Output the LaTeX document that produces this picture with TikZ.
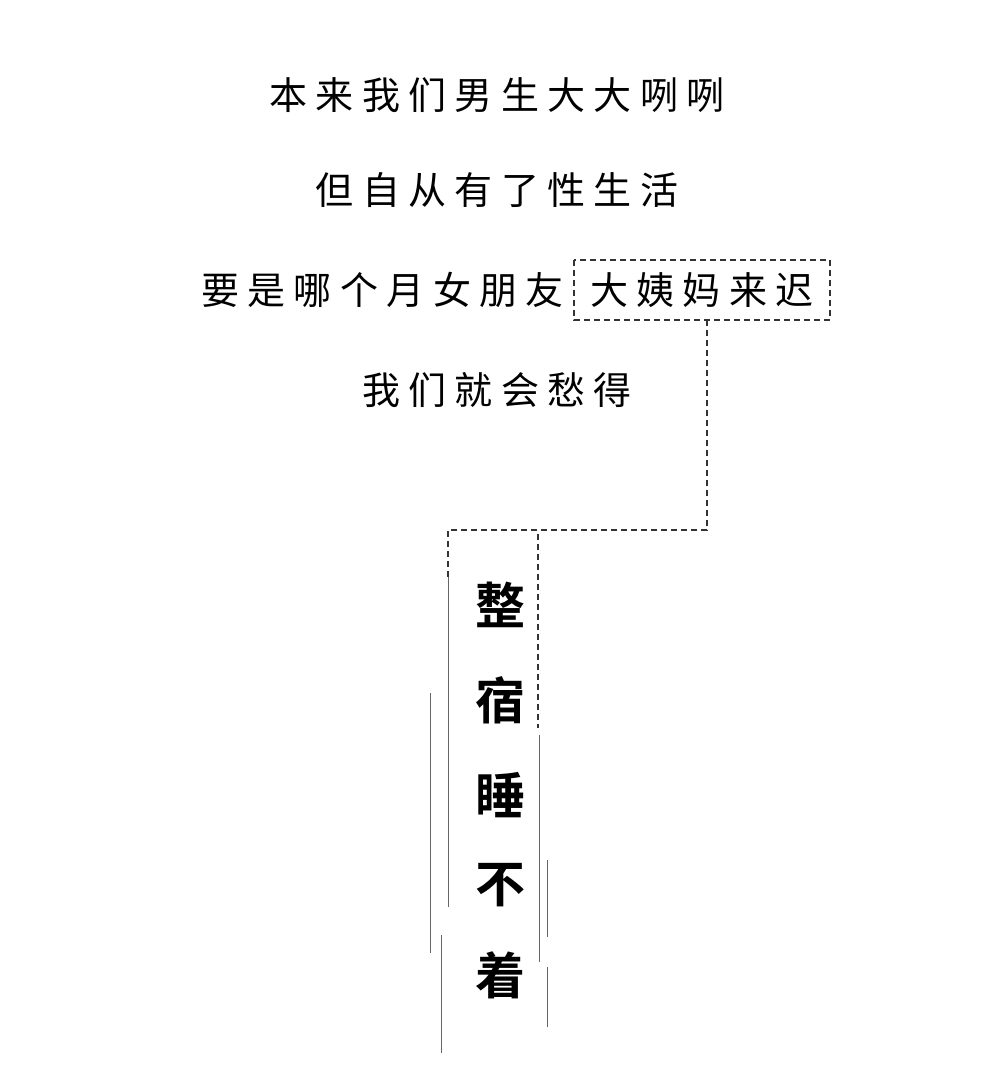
\documentclass[tikz,border=0pt]{standalone}
\usepackage{fontspec}
\newfontfamily\cjk[LetterSpace=22]{Noto Sans CJK SC}
\newfontfamily\cjkb[BoldFont=*,FakeBold=0]{Noto Sans CJK SC Bold}
\begin{document}
\begin{tikzpicture}[x=1pt,y=-1pt,
  txt/.style={inner sep=0,font=\cjk\fontsize{38}{40}\selectfont},
  big/.style={inner sep=0,font=\cjkb\fontsize{50}{52}\selectfont},
  dl/.style={draw=black!80,dashed,line width=1.6pt,dash pattern=on 6pt off 4pt},
  sl/.style={draw=black!60,line width=1pt}]
\useasboundingbox (0,0) rectangle (1000,1084);
\node[txt] (l1) at (497,95) {本来我们男生大大咧咧};
\node[txt] (l2) at (497,190) {但自从有了性生活};
\node[txt,anchor=east] (l3) at (564,290) {要是哪个月女朋友};
\node[txt] (hl) at (702,290) {大姨妈来迟};
\node[txt] (l4) at (497,390) {我们就会愁得};
\draw[dl] (574,260) rectangle (830,320);
\coordinate (a) at (707,320);
\coordinate (b) at (707,530);
\coordinate (c) at (448,530);
\coordinate (d) at (448,577);
\draw[dl] (a) -- (b) -- (c) -- (d);
\draw[dl] (538,534) -- (538,728);
\node[big] (c1) at (500,605) {整};
\node[big] (c2) at (500,700) {宿};
\node[big] (c3) at (500,795) {睡};
\node[big] (c4) at (500,885) {不};
\node[big] (c5) at (500,975) {着};
\draw[sl] (448,577) -- (448,907);
\draw[sl] (430,693) -- (430,953);
\draw[sl] (441,935) -- (441,1053);
\draw[sl] (539,735) -- (539,962);
\draw[sl] (547,860) -- (547,937);
\draw[sl] (547,967) -- (547,1027);
\end{tikzpicture}
\end{document}
